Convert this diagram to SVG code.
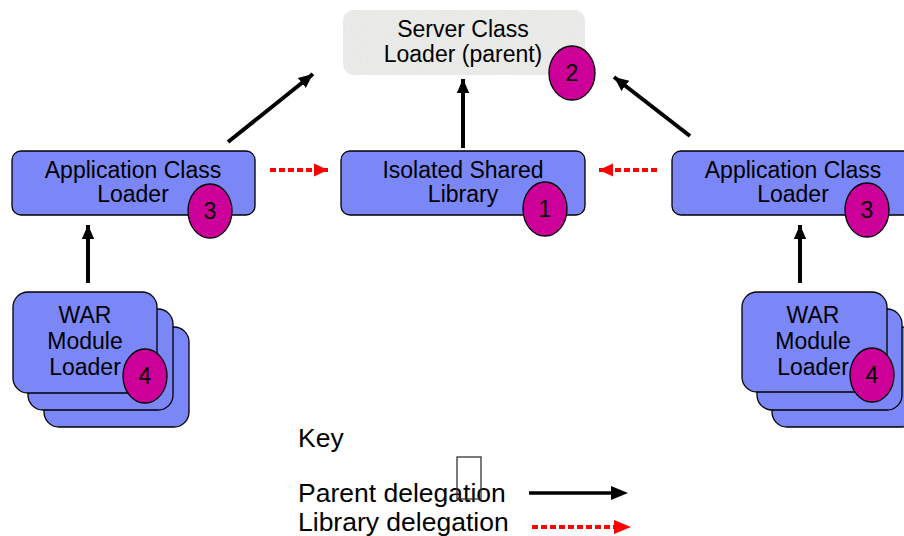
<svg xmlns="http://www.w3.org/2000/svg" width="904" height="536" viewBox="0 0 904 536">
<style>
.box{fill:#7b87f7;stroke:#000;stroke-width:1.3}
.badge{fill:#cc0099;stroke:#000;stroke-width:1.3}
.t{font-family:"Liberation Sans",Arial,sans-serif;font-size:23px;fill:#000;text-anchor:middle}
.n{font-family:"Liberation Sans",Arial,sans-serif;font-size:23px;fill:#000;text-anchor:middle}
.k{font-family:"Liberation Sans",Arial,sans-serif;font-size:26.5px;fill:#000}
.par{stroke:#000;stroke-width:4;fill:none}
.lib{stroke:#ff0000;stroke-width:4;fill:none;stroke-dasharray:6 3}
</style>
<defs>
<marker id="ah" markerWidth="4" markerHeight="4" refX="3.6" refY="2" orient="auto" markerUnits="strokeWidth"><path d="M0,0.4 L3.6,2 L0,3.6 Z" fill="#000"/></marker>
<marker id="ahr" markerWidth="4" markerHeight="4" refX="3.6" refY="2" orient="auto" markerUnits="strokeWidth"><path d="M0,0.3 L3.6,2 L0,3.7 Z" fill="#ff0000"/></marker>
<filter id="grain" x="0" y="0" width="1" height="1">
<feTurbulence type="fractalNoise" baseFrequency="0.7" numOctaves="2" seed="3" result="n"/>
<feColorMatrix in="n" type="matrix" values="0 0 0 0 0.72  0 0 0 0 0.72  0 0 0 0 0.7  0 0 0 1.1 -0.45" result="g"/>
<feComposite in="g" in2="SourceGraphic" operator="in" result="gc"/>
<feMerge><feMergeNode in="SourceGraphic"/><feMergeNode in="gc"/></feMerge>
</filter>
</defs>
<rect width="904" height="536" fill="#fff"/>

<g id="connectors">
<line class="par" x1="228" y1="142" x2="313" y2="74" marker-end="url(#ah)"/>
<line class="par" x1="690" y1="136" x2="614" y2="77" marker-end="url(#ah)"/>
<line class="par" x1="463" y1="148" x2="463" y2="79" marker-end="url(#ah)"/>
<line class="par" x1="88" y1="283" x2="88" y2="225" marker-end="url(#ah)"/>
<line class="par" x1="800" y1="283" x2="800" y2="225" marker-end="url(#ah)"/>
<line class="lib" x1="270" y1="170" x2="328" y2="170" marker-end="url(#ahr)"/>
<line class="lib" x1="657" y1="170" x2="599" y2="170" marker-end="url(#ahr)"/>
</g>

<g id="server">
<rect x="343" y="10" width="242" height="65" rx="11" fill="#ebebe9" filter="url(#grain)"/>
<text class="t" x="463" y="37">Server Class</text>
<text class="t" x="463" y="62">Loader (parent)</text>
<ellipse class="badge" cx="572" cy="73" rx="23" ry="27"/>
<text class="n" x="572" y="81">2</text>
</g>

<g id="app-left">
<rect class="box" x="12" y="151" width="243" height="64" rx="9"/>
<text class="t" x="133" y="178">Application Class</text>
<text class="t" x="133" y="202">Loader</text>
<ellipse class="badge" cx="210" cy="211" rx="22" ry="27"/>
<text class="n" x="210" y="219">3</text>
</g>

<g id="shared-lib">
<rect class="box" x="341" y="151" width="244" height="64" rx="9"/>
<text class="t" x="463" y="178">Isolated Shared</text>
<text class="t" x="463" y="202">Library</text>
<ellipse class="badge" cx="545" cy="209" rx="22" ry="27"/>
<text class="n" x="545" y="217">1</text>
</g>

<g id="app-right">
<rect class="box" x="672" y="151" width="243" height="64" rx="9"/>
<text class="t" x="793" y="178">Application Class</text>
<text class="t" x="793" y="202">Loader</text>
<ellipse class="badge" cx="867" cy="210" rx="22" ry="27"/>
<text class="n" x="867" y="218">3</text>
</g>

<g id="war-left">
<rect class="box" x="44" y="327" width="145" height="100" rx="15"/>
<rect class="box" x="28" y="309" width="145" height="101" rx="15"/>
<rect class="box" x="13" y="292" width="144" height="101" rx="15"/>
<text class="t" x="85" y="323">WAR</text>
<text class="t" x="85" y="349">Module</text>
<text class="t" x="85" y="375">Loader</text>
<ellipse class="badge" cx="145" cy="376" rx="22" ry="27"/>
<text class="n" x="145" y="384">4</text>
</g>

<g id="war-right">
<rect class="box" x="772" y="327" width="145" height="100" rx="15"/>
<rect class="box" x="757" y="309" width="145" height="101" rx="15"/>
<rect class="box" x="742" y="292" width="145" height="100" rx="15"/>
<text class="t" x="813" y="323">WAR</text>
<text class="t" x="813" y="349">Module</text>
<text class="t" x="813" y="375">Loader</text>
<ellipse class="badge" cx="872" cy="375" rx="22" ry="27"/>
<text class="n" x="872" y="383">4</text>
</g>

<g id="key">
<text class="k" x="298" y="447">Key</text>
<text class="k" x="298" y="502">Parent delegation</text>
<text class="k" x="298" y="531">Library delegation</text>
<rect x="457" y="457" width="24" height="42" fill="none" stroke="#333" stroke-width="1.3"/>
<line x1="529" y1="493" x2="612" y2="493" stroke="#000" stroke-width="3.5"/>
<path d="M611,486 L628,493 L611,500 Z" fill="#000"/>
<line x1="532" y1="527" x2="615" y2="527" stroke="#ff0000" stroke-width="4" stroke-dasharray="6 3"/>
<path d="M614,520 L631,527 L614,534 Z" fill="#ff0000"/>
</g>
</svg>
